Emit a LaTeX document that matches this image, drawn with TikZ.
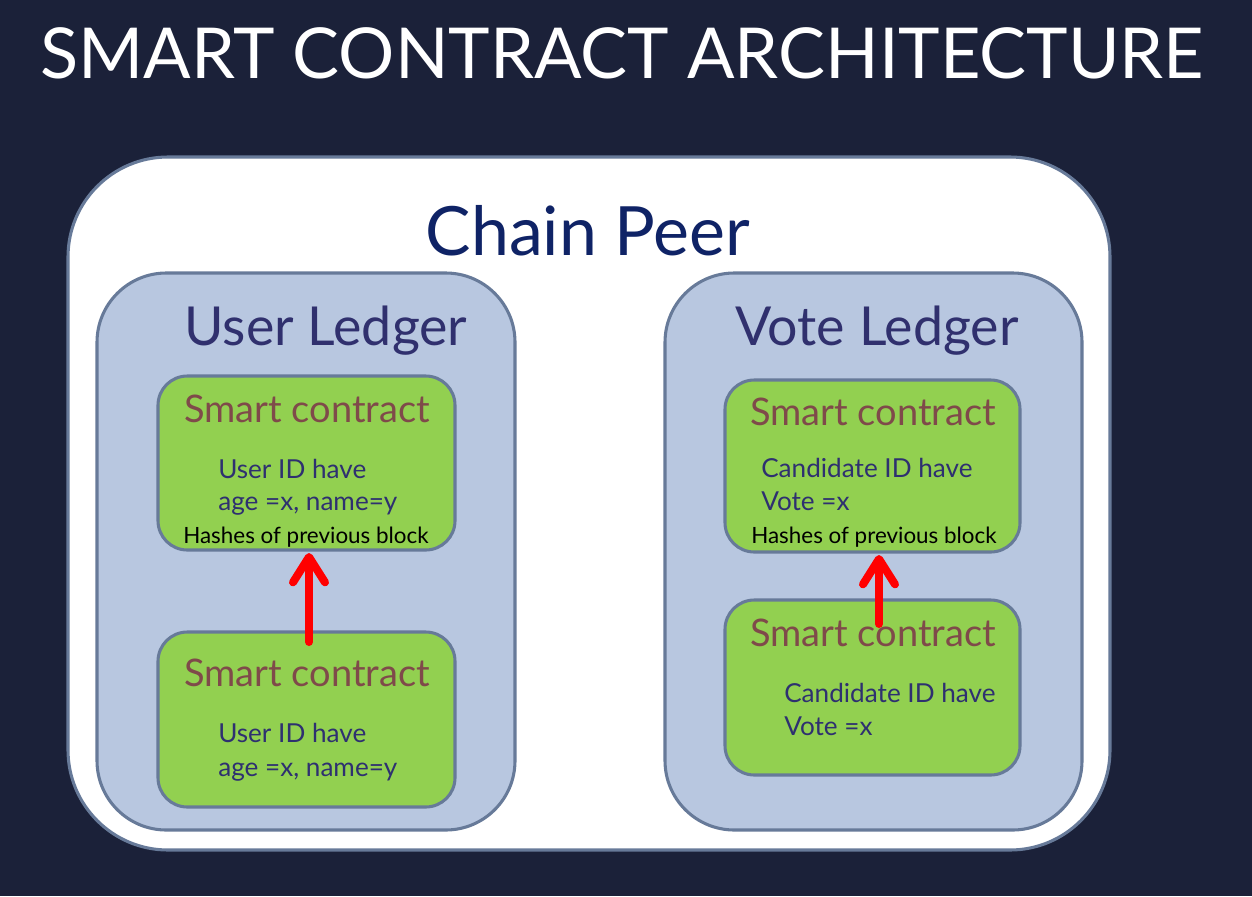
\documentclass[tikz,border=0pt]{standalone}
\usepackage{fontspec}
\setmainfont{Lato}
\usetikzlibrary{arrows.meta,calc}
\definecolor{bg}{HTML}{1B2139}
\definecolor{edge}{HTML}{677A99}
\definecolor{ledgerfill}{HTML}{B8C7E0}
\definecolor{greenfill}{HTML}{92D050}
\definecolor{peertext}{HTML}{0F2366}
\definecolor{ledgertext}{HTML}{30306E}
\definecolor{sctext}{HTML}{7F4A4A}
\definecolor{bodytext}{HTML}{2E3070}
\definecolor{arrowred}{HTML}{FF0000}
\begin{document}
\begin{tikzpicture}[x=0.75pt,y=-0.75pt,
  box/.style={draw=edge,line width=2.3pt},
  peerbox/.style={box,fill=white,rounded corners=75pt},
  ledgerbox/.style={box,fill=ledgerfill,rounded corners=52pt},
  scbox/.style={box,fill=greenfill,rounded corners=22pt},
  titletext/.style={text=white,font=\fontsize{52.7}{62}\selectfont,anchor=base,inner sep=0pt},
  peertitle/.style={text=peertext,font=\fontsize{51}{62}\selectfont,anchor=base,inner sep=0pt},
  ledgertitle/.style={text=ledgertext,font=\fontsize{40.3}{50}\selectfont,anchor=base,inner sep=0pt},
  sctitle/.style={text=sctext,font=\fontsize{28.5}{35}\selectfont,anchor=base,inner sep=0pt},
  body/.style={text=bodytext,font=\fontsize{19.6}{23}\selectfont,anchor=base west,inner sep=0pt},
  hash/.style={text=black,font=\fontsize{16.8}{20}\selectfont,anchor=base,inner sep=0pt},
  redarrow/.style={draw=arrowred,line width=6pt,line cap=round,-{Straight Barb[length=19pt,width=24pt,round]}}
]
\fill[bg] (0,0) rectangle (1252,896);
\useasboundingbox (0,0) rectangle (1252,896);

\node[titletext] (title) at (622,78) {SMART CONTRACT ARCHITECTURE};

\path[peerbox] (68,157) rectangle (1110,850);
\node[peertitle] (peertitle) at (588,255) {Chain Peer};

% User ledger
\path[ledgerbox] (97,273) rectangle (515,830);
\node[ledgertitle] (ul) at (326,345) {User Ledger};

\path[scbox] (158,376) rectangle (455,550);
\coordinate (utbot) at (309,550);
\node[sctitle] (ut1) at (307,422) {Smart contract};
\node[body] (ut2) at (218,478) {User ID have};
\node[body] (ut3) at (218,510) {age =x, name=y};
\node[hash] (ut4) at (306,543) {Hashes of previous block};

\path[scbox] (158,632) rectangle (455,807);
\coordinate (ubstart) at (309,642);
\node[sctitle] (ub1) at (307,686) {Smart contract};
\node[body] (ub2) at (218,742) {User ID have};
\node[body] (ub3) at (218,776) {age =x, name=y};

\draw[redarrow] (ubstart) -- ($(utbot)+(0,3)$);

% Vote ledger
\path[ledgerbox] (665,273) rectangle (1082,830);
\node[ledgertitle] (vl) at (877,345) {Vote Ledger};

\path[scbox] (725,380) rectangle (1020,552);
\coordinate (vtbot) at (879,552);
\node[sctitle] (vt1) at (873,425) {Smart contract};
\node[body] (vt2) at (761,477) {Candidate ID have};
\node[body] (vt3) at (761,510) {Vote =x};
\node[hash] (vt4) at (874,543) {Hashes of previous block};

\path[scbox] (725,600) rectangle (1020,775);
\coordinate (vbstart) at (879,624);
\node[sctitle] (vb1) at (873,646) {Smart contract};
\node[body] (vb2) at (784,702) {Candidate ID have};
\node[body] (vb3) at (784,735) {Vote =x};

\draw[redarrow] (vbstart) -- ($(vtbot)+(0,3)$);
\end{tikzpicture}
\end{document}
